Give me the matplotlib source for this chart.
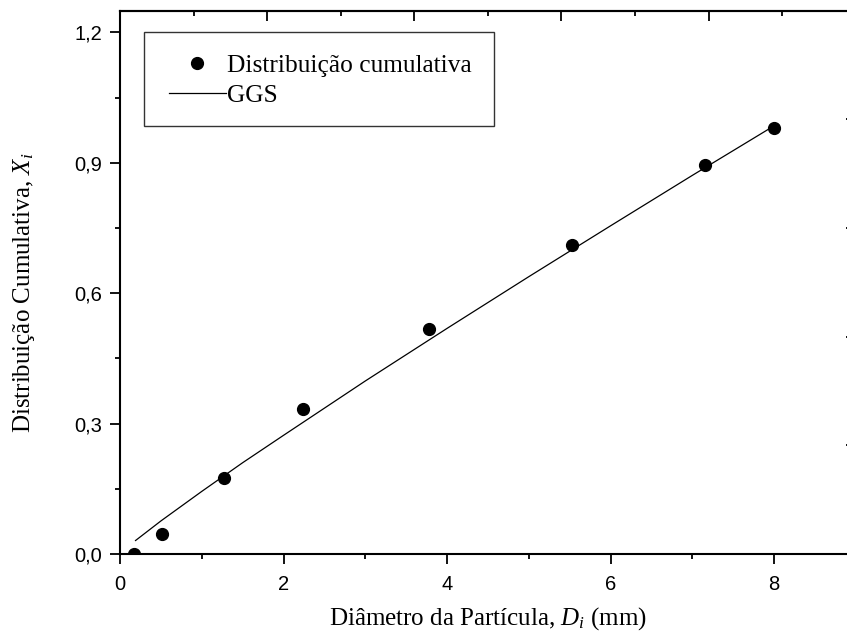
import numpy as np
import matplotlib
matplotlib.use("Agg")
import matplotlib.pyplot as plt
from matplotlib.ticker import MultipleLocator, FuncFormatter
from matplotlib.lines import Line2D
from matplotlib.patches import Rectangle

plt.rcParams['mathtext.fontset'] = 'custom'
plt.rcParams['mathtext.rm'] = 'Liberation Serif'
plt.rcParams['mathtext.it'] = 'Liberation Serif:italic'

# Data
diam = [0.175, 0.518, 1.276, 2.241, 3.780, 5.533, 7.160, 8.000]
cumul = [0.000, 0.047, 0.174, 0.333, 0.518, 0.712, 0.894, 0.980]
ggs_x = [0.19, 0.5, 1.0, 1.5, 2.0, 3.0, 4.0, 5.0, 6.0, 7.0, 8.0]
ggs_y = [0.031, 0.076, 0.144, 0.210, 0.273, 0.398, 0.519, 0.638, 0.755, 0.871, 0.985]

xticks = [0, 2, 4, 6, 8]
yticks = [0.0, 0.3, 0.6, 0.9, 1.2]

W, H = 847, 641
PX = 72 / 100  # points per pixel
fig = plt.figure(figsize=(W / 100, H / 100), dpi=100)
ax = fig.add_axes([120 / W, (H - 554) / H, 735.75 / W, 543.3 / H])

ax.plot(ggs_x, ggs_y, color='black', lw=0.9, label='GGS')
ax.plot(diam, cumul, 'o', color='black', ms=8.5, label='Distribuição cumulativa', zorder=3)

ax.set_xlim(0, 9)
ax.set_ylim(0, 1.25)
ax.set_xticks(xticks)
ax.set_yticks(yticks)
ax.xaxis.set_minor_locator(MultipleLocator(1))
ax.yaxis.set_minor_locator(MultipleLocator(0.15))
ax.xaxis.set_major_formatter(FuncFormatter(lambda v, p: '%d' % round(v)))
ax.yaxis.set_major_formatter(FuncFormatter(lambda v, p: ('%.1f' % v).replace('.', ',')))

for s in ax.spines.values():
    s.set_linewidth(1.5)

ax.tick_params(axis='both', which='major', direction='out', length=10 * PX, width=1.3,
               labelsize=14.5, top=False, right=False)
ax.tick_params(axis='both', which='minor', direction='out', length=5 * PX, width=1.3,
               top=False, right=False)
ax.tick_params(axis='x', which='major', pad=11 * PX)
ax.tick_params(axis='y', which='major', pad=8 * PX)
for lab in ax.get_xticklabels() + ax.get_yticklabels():
    lab.set_family('Liberation Sans')

# top axis ticks (from another layer scale)
secx = ax.secondary_xaxis('top')
secx.set_xticks(np.arange(0, 9.1, 1.8))
secx.xaxis.set_minor_locator(MultipleLocator(0.9))
secx.tick_params(which='major', direction='in', length=10 * PX, width=1.3, labeltop=False)
secx.tick_params(which='minor', direction='in', length=5 * PX, width=1.3)
secx.spines['top'].set_linewidth(1.5)

secy = ax.secondary_yaxis('right')
secy.set_yticks([0.25, 0.5, 0.75, 1.0])
secy.tick_params(which='major', direction='in', length=9.8 * PX, width=1.3, labelright=False)
secy.yaxis.set_minor_locator(plt.NullLocator())

ax.set_xlabel('Diâmetro da Partícula, $D_i$ (mm)', family='Liberation Serif', fontsize=18)
ax.set_ylabel('Distribuição Cumulativa, $X_i$', family='Liberation Serif', fontsize=18)
ax.xaxis.label.set_va('center')
ax.yaxis.label.set_va('center')
ax.xaxis.set_label_coords(0.5, (554 - 619) / 543.3)
ax.yaxis.set_label_coords((24 - 120) / 735.75, (554 - 293) / 543.3)

# legend (frame drawn separately)
h_pts = Line2D([], [], marker='o', ls='none', color='black', ms=8.5)
h_line = Line2D([], [], color='black', lw=0.9)
leg = ax.legend([h_pts, h_line], ['Distribuição cumulativa', 'GGS'],
                loc='upper left', bbox_to_anchor=(169 / W, (H - 54) / H),
                bbox_transform=fig.transFigure, borderaxespad=0,
                prop={'family': 'Liberation Serif', 'size': 18.3},
                handlelength=2.24, handletextpad=0.04, borderpad=0,
                labelspacing=0.3, frameon=False)
leg.set_zorder(6)
ax.add_patch(Rectangle((144 / W, (H - 126) / H), 350 / W, 94.3 / H,
                       transform=fig.transFigure, fill=True, facecolor='white',
                       edgecolor='#333333', lw=1.0, zorder=4, clip_on=False))

fig.savefig('out.png', dpi=100)
